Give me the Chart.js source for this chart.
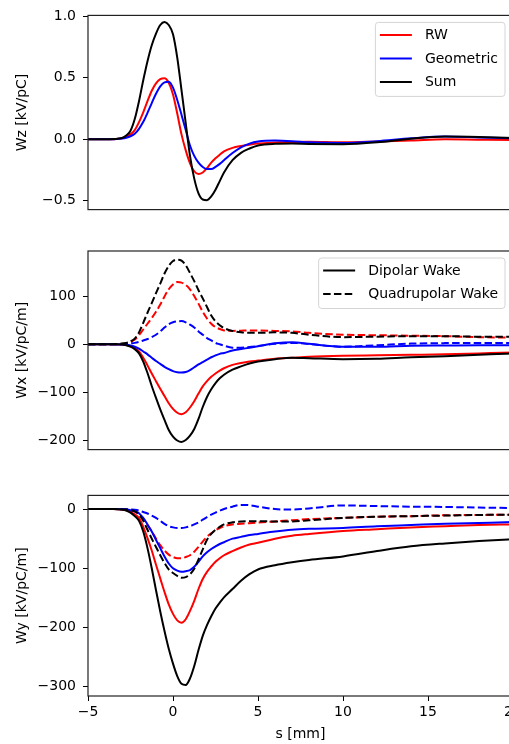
<!DOCTYPE html>
<html>
<head>
<meta charset="utf-8">
<script src="https://cdn.jsdelivr.net/npm/chart.js"></script>
<style>
  html, body { margin: 0; padding: 0; background: #fff; overflow: hidden; }
  #wrap { position: relative; width: 509px; height: 744px; overflow: hidden; }
  #wrap canvas { position: absolute; left: 0; }
</style>
</head>
<body>
<div id="wrap">
  <canvas id="wz" width="530" height="225" style="top:0px"></canvas>
  <canvas id="wx" width="530" height="230" style="top:235px"></canvas>
  <canvas id="wy" width="530" height="264" style="top:480px"></canvas>
</div>
<script>
// s [mm] sample positions (shared by every curve)
const s = [-5, -4, -3.5, -3, -2.75, -2.5, -2.25, -2, -1.75, -1.5, -1.25, -1, -0.75, -0.5, -0.25,
  0, 0.25, 0.5, 0.75, 1, 1.25, 1.5, 1.75, 2, 2.25, 2.5, 2.75, 3,
  3.5, 4, 4.5, 5, 6, 7, 8, 10, 12, 14, 16, 18, 20, 22, 25];

// Wz [kV/pC]
const wzRW = [0, 0, 0.001, 0.008, 0.02, 0.04, 0.075, 0.14, 0.22, 0.31, 0.395, 0.455, 0.49, 0.497, 0.46,
  0.365, 0.21, 0.04, -0.09, -0.195, -0.26, -0.283, -0.27, -0.235, -0.19, -0.155, -0.125, -0.098,
  -0.07, -0.055, -0.044, -0.035, -0.027, -0.022, -0.02, -0.025, -0.018, -0.01, 0, -0.003, -0.005, -0.004, 0];
const wzGeo = [0, 0, 0.001, 0.006, 0.013, 0.025, 0.045, 0.085, 0.142, 0.215, 0.295, 0.37, 0.43, 0.463, 0.468,
  0.42, 0.32, 0.20, 0.075, -0.05, -0.135, -0.19, -0.225, -0.242, -0.242, -0.225, -0.2, -0.17,
  -0.112, -0.065, -0.035, -0.018, -0.01, -0.015, -0.025, -0.03, -0.015, 0.008, 0.022, 0.015, 0.008, 0.004, 0];
const wzSum = [0, 0, 0.002, 0.01, 0.03, 0.07, 0.165, 0.31, 0.48, 0.635, 0.765, 0.86, 0.93, 0.955, 0.93,
  0.855, 0.665, 0.40, 0.13, -0.135, -0.32, -0.44, -0.49, -0.495, -0.465, -0.41, -0.34, -0.27,
  -0.17, -0.11, -0.075, -0.05, -0.037, -0.035, -0.038, -0.04, -0.025, 0.005, 0.022, 0.018, 0.01, 0.005, 0];

// Wx [kV/pC/m]
const wxDipRW = [0, 0, 0, -0.5, -1.5, -4, -8, -15, -28, -44, -61, -77, -93, -108, -123,
  -135, -143, -146, -142, -132, -119, -103, -88, -77, -68, -61, -55, -50,
  -43, -39, -36, -34, -30, -28, -26, -24, -23, -22, -21, -19, -17, -16, -14];
const wxDipGeo = [0, 0, 0, -0.3, -1, -2.5, -5, -9, -15, -21, -28, -35, -41, -47, -52,
  -56, -58.5, -59, -58, -54, -48, -42, -37, -32, -27, -23, -20, -18,
  -13, -10, -7, -4, 2, 4.5, 1, -5, -5, -3, -2.5, -2, -2, -2, -1];
const wxDipSum = [0, 0, 0, -0.5, -2, -5, -10, -19, -36, -60, -87, -112, -136, -158, -179,
  -193, -201, -204, -200, -191, -177, -156, -131, -110, -94, -81, -71, -63.5,
  -53, -46, -40, -36, -31, -28, -29, -31, -30, -27, -25, -22, -19, -17, -15];
const wxQuadRW = [0, 0, 0.2, 1, 2.5, 5, 10, 19, 31, 43, 55, 68, 83, 100, 115,
  125, 130, 129, 124, 115, 101, 85, 68, 54, 43, 36, 32, 29,
  28, 28.5, 29, 29, 28, 27, 24, 20, 19, 18, 17, 15, 14, 13, 12];
const wxQuadGeo = [0, 0, 0, 0.5, 1, 2, 3, 5, 8, 11, 15, 20, 27, 35, 42,
  46, 48, 48.5, 46, 41, 35, 27, 20, 13, 8, 3, 0, -3,
  -7, -7, -5.5, -3.5, 1, 3, 0.5, -5, -2, 1.5, 2.5, 3, 3, 3, 2];
const wxQuadSum = [0, 0, 0.3, 1.5, 3, 6, 12, 25, 45, 66, 86, 107, 127, 148, 164,
  174, 177, 175, 165, 149, 132, 113, 96, 78, 60, 48, 40, 34,
  28, 25, 24, 24, 25, 24, 20, 15, 16, 17, 17, 16, 16, 15, 14];

// Wy [kV/pC/m]
const wyDipRW = [0, 0, 0, -1, -2, -4.5, -9, -15, -30, -49, -70, -94, -117, -140, -161,
  -177, -188, -192, -186, -172, -155, -135, -118, -106, -97, -89, -83, -78,
  -71, -65, -60, -57, -50, -45, -42, -37, -34, -31, -29, -27, -26, -25, -23];
const wyDipGeo = [0, 0, 0, -0.5, -1, -2, -4, -7, -15, -26, -38, -52, -66, -80, -92,
  -100, -104, -106, -105, -103, -97.5, -89, -80, -73, -67.5, -63, -59, -56,
  -50, -47, -44, -42, -38, -35, -33.5, -32, -29, -27, -25, -23.5, -22, -21, -20];
const wyDipSum = [0, 0, 0, -1, -2.5, -6, -12, -20, -38, -66, -100, -137, -173, -206, -236,
  -261, -282, -295, -297, -286, -265, -238, -214, -196, -181, -168, -158, -149,
  -135, -121, -110, -102, -95, -90, -86, -80, -71, -63, -58, -54, -51, -49, -46];
const wyQuadRW = [0, 0, 0, -0.5, -1, -2, -4, -9, -16, -27, -38, -50, -61, -70, -77,
  -81, -83, -83, -81, -78, -72, -64, -55, -47, -41, -36, -32, -29,
  -26, -25, -24, -23, -21, -19, -17, -15, -13, -12, -10.6, -10, -9.5, -9, -8];
const wyQuadGeo = [0, 0, 0, 0, -0.3, -0.7, -1.2, -2.5, -5, -7.5, -11, -15, -20, -25, -29,
  -31, -32, -32, -31, -29, -26, -22.5, -18, -13.5, -9.5, -6, -3, 0,
  4, 7, 6.5, 4, 0, -1, 1, 6, 5, 4, 3.5, 2.5, 1.7, 1, 0.5];
const wyQuadSum = [0, 0, 0, -0.5, -1, -2, -4, -9, -20, -35, -50, -64, -78, -91, -102,
  -108, -113, -116, -115, -110, -101, -85, -68, -52, -42, -35, -30, -26,
  -22.5, -21, -20.5, -20.5, -21, -21, -19, -15, -13, -12, -11, -10, -9.5, -9, -8];

// tick labels
const xTicks = [-5, 0, 5, 10, 15, 20];
const wzTicks = [-0.5, 0, 0.5, 1.0];
const wxTicks = [-200, -100, 0, 100];
const wyTicks = [-300, -200, -100, 0];

Chart.defaults.font.family = 'DejaVu Sans';
Chart.defaults.font.size = 14;
Chart.defaults.color = '#000';

const DASH = [7.5, 3.3];
const minus = t => String(t).replace('-', '\u2212');

function pts(ys) {
  return s.map((x, i) => ({ x: x, y: ys[i] }));
}

function line(label, ys, color, dashed, order) {
  return {
    label: label,
    data: pts(ys),
    borderColor: color,
    borderWidth: 2,
    borderDash: dashed ? DASH : [],
    pointRadius: 0,
    fill: false,
    cubicInterpolationMode: 'monotone',
    order: order
  };
}

// matplotlib style box around the axes + legend in the upper right corner
const boxPlugin = {
  id: 'boxFrame',
  afterDatasetsDraw(chart, args, opts) {
    const a = chart.chartArea;
    const ctx = chart.ctx;
    ctx.save();
    ctx.strokeStyle = '#222';
    ctx.lineWidth = 1.2;
    ctx.strokeRect(a.left, a.top, a.right - a.left, a.bottom - a.top);

    const items = opts.items || [];
    if (items.length) {
      ctx.font = '14px "DejaVu Sans"';
      const tw = Math.max(...items.map(it => ctx.measureText(it.label).width));
      const w = 4.5 + 32 + 13 + tw + 7;
      const h = 12.5 + (items.length - 1) * 23.5 + 14.5;
      const x0 = a.right - 8 - w;
      const y0 = a.top + 7;
      const r = 3;
      ctx.beginPath();
      ctx.moveTo(x0 + r, y0);
      ctx.arcTo(x0 + w, y0, x0 + w, y0 + h, r);
      ctx.arcTo(x0 + w, y0 + h, x0, y0 + h, r);
      ctx.arcTo(x0, y0 + h, x0, y0, r);
      ctx.arcTo(x0, y0, x0 + w, y0, r);
      ctx.closePath();
      ctx.fillStyle = 'rgba(255,255,255,0.8)';
      ctx.fill();
      ctx.strokeStyle = '#d4d4d4';
      ctx.lineWidth = 1;
      ctx.stroke();

      items.forEach((it, i) => {
        const y = y0 + 12.5 + i * 23.5;
        ctx.beginPath();
        ctx.setLineDash(it.dash ? DASH : []);
        ctx.strokeStyle = it.color;
        ctx.lineWidth = 2;
        ctx.moveTo(x0 + 4.5, y);
        ctx.lineTo(x0 + 36.5, y);
        ctx.stroke();
        ctx.setLineDash([]);
        ctx.fillStyle = '#000';
        ctx.textAlign = 'left';
        ctx.textBaseline = 'middle';
        ctx.fillText(it.label, x0 + 49.5, y + 0.5);
      });
    }
    ctx.restore();
  }
};

function makeChart(id, datasets, cfg) {
  return new Chart(document.getElementById(id), {
    type: 'line',
    data: { datasets: datasets },
    plugins: [boxPlugin],
    options: {
      responsive: false,
      animation: false,
      devicePixelRatio: 1,
      layout: { padding: { left: 0, right: 17, top: cfg.top, bottom: 0 } },
      plugins: {
        legend: { display: false },
        tooltip: { enabled: false },
        boxFrame: { items: cfg.legend }
      },
      scales: {
        x: {
          type: 'linear',
          min: -5,
          max: 20,
          afterBuildTicks: sc => { sc.ticks = xTicks.map(v => ({ value: v })); },
          afterFit: sc => { sc.height = cfg.xHeight; },
          border: { display: false },
          grid: { display: cfg.showX, drawOnChartArea: false, drawTicks: true, tickLength: 5, color: '#000', lineWidth: 1 },
          ticks: { display: cfg.showX, padding: 3, maxRotation: 0, autoSkip: false, callback: v => minus(v) },
          title: { display: cfg.showX, text: 's [mm]', padding: { top: 0, bottom: 1 } }
        },
        y: {
          type: 'linear',
          min: cfg.yMin,
          max: cfg.yMax,
          afterBuildTicks: sc => { sc.ticks = cfg.yTicks.map(v => ({ value: v })); },
          afterFit: sc => { sc.width = 88; },
          border: { display: false },
          grid: { drawOnChartArea: false, drawTicks: true, tickLength: 5, color: '#000', lineWidth: 1 },
          ticks: { padding: 7, autoSkip: false, callback: cfg.fmt },
          title: { display: true, text: cfg.yTitle, padding: { top: 14, bottom: 0 } }
        }
      }
    }
  });
}

makeChart('wz', [
  line('RW', wzRW, '#ff0000', false, 3),
  line('Geometric', wzGeo, '#0000ff', false, 2),
  line('Sum', wzSum, '#000000', false, 1)
], {
  top: 10, xHeight: 14, showX: false,
  yMin: -0.572, yMax: 1.008, yTicks: wzTicks, yTitle: 'Wz [kV/pC]',
  fmt: v => minus(Number(v).toFixed(1)),
  legend: [
    { label: 'RW', color: '#ff0000' },
    { label: 'Geometric', color: '#0000ff' },
    { label: 'Sum', color: '#000000' }
  ]
});

makeChart('wx', [
  line('RW dipolar', wxDipRW, '#ff0000', false, 6),
  line('RW quadrupolar', wxQuadRW, '#ff0000', true, 5),
  line('Geometric dipolar', wxDipGeo, '#0000ff', false, 4),
  line('Geometric quadrupolar', wxQuadGeo, '#0000ff', true, 3),
  line('Sum dipolar', wxDipSum, '#000000', false, 2),
  line('Sum quadrupolar', wxQuadSum, '#000000', true, 1)
], {
  top: 16, xHeight: 13, showX: false,
  yMin: -220, yMax: 195, yTicks: wxTicks, yTitle: 'Wx [kV/pC/m]',
  fmt: v => minus(v),
  legend: [
    { label: 'Dipolar Wake', color: '#000000' },
    { label: 'Quadrupolar Wake', color: '#000000', dash: true }
  ]
});

makeChart('wy', [
  line('RW dipolar', wyDipRW, '#ff0000', false, 6),
  line('RW quadrupolar', wyQuadRW, '#ff0000', true, 5),
  line('Geometric dipolar', wyDipGeo, '#0000ff', false, 4),
  line('Geometric quadrupolar', wyQuadGeo, '#0000ff', true, 3),
  line('Sum dipolar', wyDipSum, '#000000', false, 2),
  line('Sum quadrupolar', wyQuadSum, '#000000', true, 1)
], {
  top: 14, xHeight: 48, showX: true,
  yMin: -315.6, yMax: 23, yTicks: wyTicks, yTitle: 'Wy [kV/pC/m]',
  fmt: v => minus(v),
  legend: []
});
</script>
</body>
</html>
